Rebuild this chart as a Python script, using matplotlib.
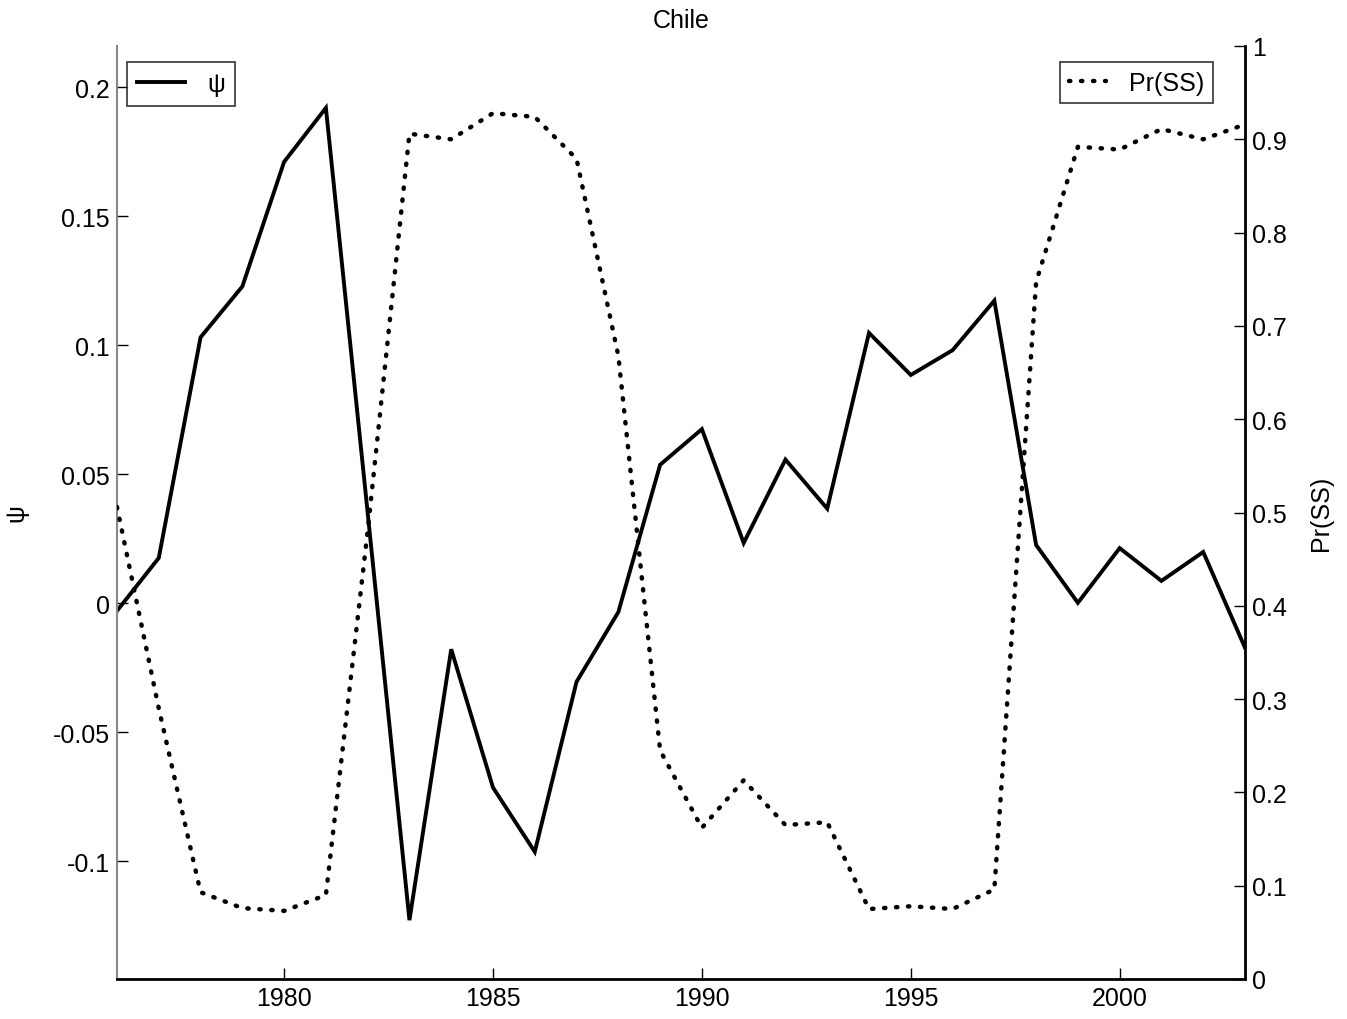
import numpy as np
import matplotlib.pyplot as plt

plt.rcParams['font.family'] = ['Liberation Sans', 'DejaVu Sans']

years = np.arange(1976, 2004)

psi = [-0.003, 0.0175, 0.103, 0.1227, 0.171, 0.1919, 0.035, -0.1229,
       -0.0179, -0.0715, -0.0964, -0.0305, -0.0035, 0.0536, 0.0674, 0.0233,
       0.0556, 0.0366, 0.1047, 0.0884, 0.098, 0.1172, 0.0225, 0.0001,
       0.0213, 0.0086, 0.0198, -0.0173]

pr_ss = [0.506, 0.29, 0.093, 0.076, 0.073, 0.09, 0.48, 0.906,
         0.90, 0.928, 0.924, 0.879, 0.668, 0.245, 0.162, 0.213,
         0.165, 0.168, 0.075, 0.078, 0.075, 0.096, 0.747, 0.892,
         0.889, 0.911, 0.90, 0.916]

psi_ticks = [-0.1, -0.05, 0, 0.05, 0.1, 0.15, 0.2]
pr_ticks = [0, 0.1, 0.2, 0.3, 0.4, 0.5, 0.6, 0.7, 0.8, 0.9, 1]
year_ticks = [1980, 1985, 1990, 1995, 2000]

fs = 18

fig = plt.figure(figsize=(13.47, 10.2), dpi=100)
ax = fig.add_axes([117 / 1347, 40 / 1020, 1128 / 1347, 933 / 1020])
ax2 = ax.twinx()

l1, = ax.plot(years, psi, color='black', lw=2.8, solid_joinstyle='miter')
l2, = ax2.plot(years, pr_ss, color='black', lw=3.2,
               linestyle=(0, (0.3, 2.4)), dash_capstyle='round')

ax.set_xlim(1976, 2003)
ax.set_ylim(-0.1457, 0.2159)
ax2.set_ylim(0, 1)

ax.set_xticks(year_ticks)
ax.set_xticklabels([str(y) for y in year_ticks])
ax.set_yticks(psi_ticks)
ax.set_yticklabels([f'{t:g}' for t in psi_ticks])
ax2.set_yticks(pr_ticks)
ax2.set_yticklabels([f'{t:g}' for t in pr_ticks])

for a in (ax, ax2):
    a.spines['top'].set_visible(False)
    a.tick_params(direction='in', length=8, width=1, labelsize=fs, pad=5)
ax.spines['left'].set_color('#888888')
ax.spines['left'].set_linewidth(1.5)
ax.spines['bottom'].set_linewidth(2)
ax2.spines['right'].set_linewidth(2)
ax2.spines['left'].set_visible(False)
ax2.spines['bottom'].set_visible(False)

ax.set_ylabel('ψ', fontsize=fs, labelpad=18)
ax2.set_ylabel('Pr(SS)', fontsize=fs, labelpad=16)
ax.set_title('Chile', fontsize=fs, pad=14)

leg1 = ax.legend([l1], ['ψ'], loc='upper left', bbox_to_anchor=(0.0089, 0.9829),
                 fontsize=fs, frameon=True, fancybox=False, borderpad=0.4,
                 handlelength=1.9, handletextpad=0.9, borderaxespad=0)
leg1.get_frame().set_edgecolor('black')
leg1.get_frame().set_linewidth(1.2)
leg2 = ax2.legend([l2], ['Pr(SS)'], loc='upper right', bbox_to_anchor=(0.9716, 0.9829),
                  fontsize=fs, frameon=True, fancybox=False, borderpad=0.35,
                  handlelength=1.5, handletextpad=0.9, borderaxespad=0)
leg2.get_frame().set_edgecolor('black')
leg2.get_frame().set_linewidth(1.2)

fig.savefig('out.png', dpi=100)
